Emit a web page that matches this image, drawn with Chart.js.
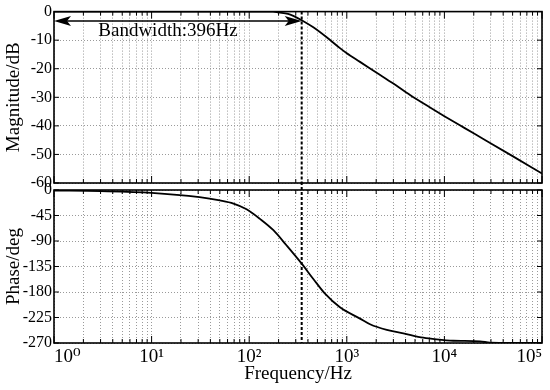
<!DOCTYPE html>
<html>
<head>
<meta charset="utf-8">
<script src="https://cdn.jsdelivr.net/npm/chart.js@4.4.0/dist/chart.umd.min.js"></script>
<style>
    html, body { margin: 0; padding: 0; background: #fff; }
    #wrap { position: relative; width: 550px; height: 390px; }
    #wrap canvas { position: absolute; left: 0; top: 0; }
</style>
</head>
<body>
<div id="wrap">
    <canvas id="mag" width="550" height="390"></canvas>
    <canvas id="phase" width="550" height="390"></canvas>
</div>
<script>
// Magnitude response (Hz, dB)
const magFreq = [1, 10, 100, 175, 200, 250, 283, 345, 454, 622, 851, 1000, 1365, 2023, 3000, 4446, 7000, 10000, 16000, 24800, 50000, 100000];
const magDb   = [0, 0, 0, 0, -0.3, -0.8, -1.5, -3.0, -5.5, -9.0, -12.8, -14.6, -17.6, -21.4, -25.2, -29.2, -33.4, -36.6, -40.7, -44.5, -50.6, -56.7];

// Phase response (Hz, deg)
const phaseFreq = [1, 3, 10, 31, 50, 69, 94, 129, 177, 242, 345, 454, 598, 851, 1365, 1730, 2570, 3800, 6080, 8320, 12300, 23200, 29300, 50000, 100000];
const phaseDeg  = [-1, -2, -5, -12.7, -18.5, -24, -34, -51, -71, -98, -130, -157, -183, -207, -227, -237, -247, -253, -260.7, -263.7, -266, -267, -269.5, -270, -270];

// Axes
const xDecades = [1, 10, 100, 1000, 10000, 100000];
const xLabels  = ['10\u2070', '10\u00b9', '10\u00b2', '10\u00b3', '10\u2074', '10\u2075'];
const magRange = { min: -60, max: 0, step: 10 };
const phaseRange = { min: -270, max: 0, step: 45 };

// Bandwidth marker
const bandwidthHz = 345;
const arrowDb = -3.3;
const bandwidthText = 'Bandwidth:396Hz';
const bandwidthTextAt = { freq: 14.7, db: -6.9 };

const FONT = '"Liberation Serif", "DejaVu Serif", serif';

// all log ticks 1..9 x 10^k
const logTicks = [];
xDecades.forEach((d, i) => {
    if (i === xDecades.length - 1) { logTicks.push(d); return; }
    for (let m = 1; m <= 9; m++) logTicks.push(m * d);
});

const isDecade = v => Math.abs(Math.log10(v) - Math.round(Math.log10(v))) < 1e-9;

function line(ctx, x1, y1, x2, y2) {
    ctx.beginPath();
    ctx.moveTo(x1, y1);
    ctx.lineTo(x2, y2);
    ctx.stroke();
}

function arrowHead(ctx, tipX, y, dir) {
    // dir = -1 pointing left, 1 pointing right
    const len = 17, half = 5, notch = 4;
    ctx.beginPath();
    ctx.moveTo(tipX, y);
    ctx.lineTo(tipX - dir * len, y - half);
    ctx.lineTo(tipX - dir * (len - notch), y);
    ctx.lineTo(tipX - dir * len, y + half);
    ctx.closePath();
    ctx.fill();
}

const bodePlugin = {
    id: 'bode',
    afterDatasetsDraw(chart, args, opts) {
        const ctx = chart.ctx;
        const { left, right, top, bottom } = chart.chartArea;
        const xs = chart.scales.x;
        const ys = chart.scales.y;

        ctx.save();
        ctx.strokeStyle = '#000';
        ctx.fillStyle = '#000';

        // inward tick marks
        ctx.lineWidth = 1;
        xs.ticks.forEach(t => {
            const px = xs.getPixelForValue(t.value);
            const len = isDecade(t.value) ? 7 : 4;
            line(ctx, px, top, px, top + len);
            line(ctx, px, bottom, px, bottom - len);
        });
        ys.ticks.forEach(t => {
            const py = ys.getPixelForValue(t.value);
            line(ctx, left, py, left + 5, py);
            line(ctx, right, py, right - 5, py);
        });

        // frame
        ctx.lineWidth = 1.6;
        ctx.strokeRect(left, top, right - left, bottom - top);

        // bandwidth dashed line
        const bx = xs.getPixelForValue(bandwidthHz);
        ctx.lineWidth = 2;
        ctx.setLineDash([3, 2]);
        line(ctx, bx, top - (opts.extendUp || 0), bx, bottom);
        ctx.setLineDash([]);

        if (opts.arrow) {
            const ay = ys.getPixelForValue(arrowDb);
            ctx.lineWidth = 1.5;
            line(ctx, left + 8, ay, bx - 8, ay);
            arrowHead(ctx, left, ay, -1);
            arrowHead(ctx, bx, ay, 1);

            ctx.font = '19px ' + FONT;
            ctx.textAlign = 'center';
            ctx.textBaseline = 'middle';
            ctx.fillText(bandwidthText,
                xs.getPixelForValue(bandwidthTextAt.freq),
                ys.getPixelForValue(bandwidthTextAt.db));
        }
        ctx.restore();
    }
};

function xAxis(showLabels) {
    return {
        type: 'logarithmic',
        min: xDecades[0],
        max: xDecades[xDecades.length - 1],
        afterBuildTicks: s => { s.ticks = logTicks.map(v => ({ value: v })); },
        afterFit: s => { s.height = showLabels ? 47 : 0; },
        grid: { color: '#9a9a9a', lineWidth: 1, drawTicks: false },
        border: { display: false, dash: [1, 2] },
        ticks: {
            display: showLabels,
            autoSkip: false,
            maxRotation: 0,
            align: 'inner',
            padding: 3,
            color: '#000',
            font: { family: FONT, size: 19 },
            callback: v => {
                const i = xDecades.findIndex(d => Math.abs(d - v) < 1e-6 * d);
                return i >= 0 ? xLabels[i] : '';
            }
        },
        title: {
            display: showLabels,
            text: 'Frequency/Hz',
            color: '#000',
            font: { family: FONT, size: 19 },
            padding: { top: 0, bottom: 5 }
        }
    };
}

function yAxis(range, title) {
    return {
        min: range.min,
        max: range.max,
        afterFit: s => { s.width = 54; },
        grid: { color: '#9a9a9a', lineWidth: 1, drawTicks: false },
        border: { display: false, dash: [1, 2] },
        ticks: {
            stepSize: range.step,
            padding: 2,
            color: '#000',
            font: { family: FONT, size: 16 }
        },
        title: {
            display: true,
            text: title,
            color: '#000',
            font: { family: FONT, size: 19 },
            padding: { top: 3, bottom: 0 }
        }
    };
}

function curve(freq, values) {
    return {
        data: freq.map((f, i) => ({ x: f, y: values[i] })),
        borderColor: '#000',
        borderWidth: 1.8,
        pointRadius: 0,
        cubicInterpolationMode: 'monotone',
        fill: false
    };
}

const common = {
    responsive: false,
    animation: false,
    events: [],
    plugins: {
        legend: { display: false },
        tooltip: { enabled: false }
    }
};

new Chart(document.getElementById('mag'), {
    type: 'line',
    data: { datasets: [curve(magFreq, magDb)] },
    options: {
        ...common,
        layout: { padding: { left: 0, right: 8, top: 9, bottom: 207 } },
        scales: { x: xAxis(false), y: yAxis(magRange, 'Magnitude/dB') },
        plugins: { ...common.plugins, bode: { arrow: true } }
    },
    plugins: [bodePlugin]
});

new Chart(document.getElementById('phase'), {
    type: 'line',
    data: { datasets: [curve(phaseFreq, phaseDeg)] },
    options: {
        ...common,
        layout: { padding: { left: 0, right: 8, top: 190, bottom: 0 } },
        scales: { x: xAxis(true), y: yAxis(phaseRange, 'Phase/deg') },
        plugins: { ...common.plugins, bode: { arrow: false, extendUp: 8 } }
    },
    plugins: [bodePlugin]
});
</script>
</body>
</html>
